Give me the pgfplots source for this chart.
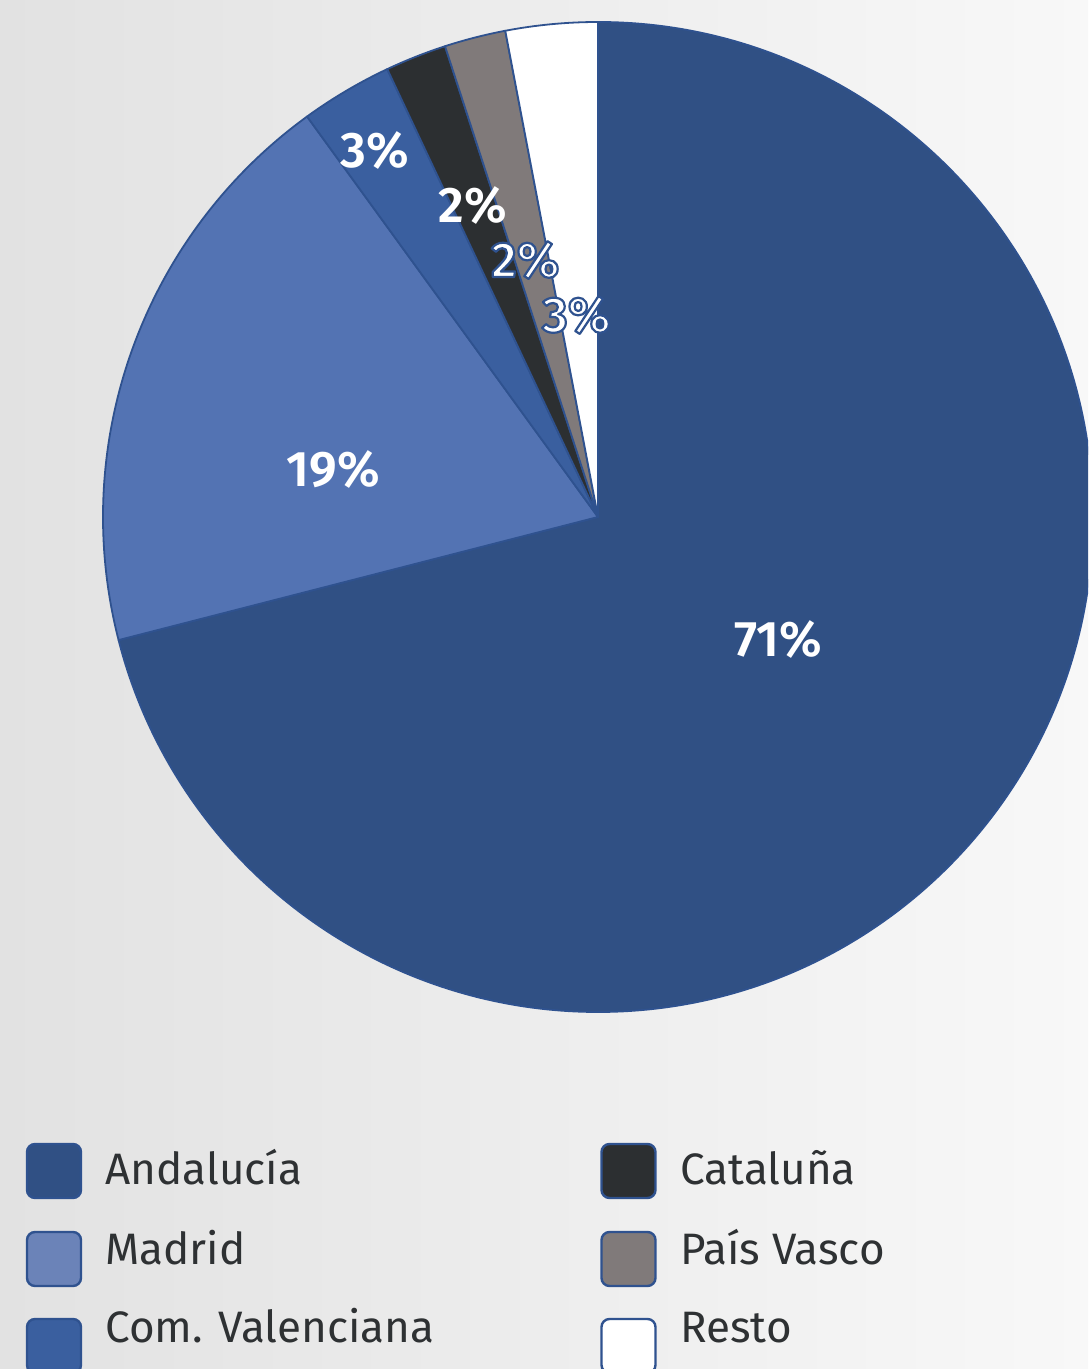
\documentclass[border=0pt]{standalone}
\usepackage{pgfplots}
\usepackage{pgfplotstable}
\pgfplotsset{compat=1.18}
\usepackage{fontspec}
\setmainfont{Fira Sans}
\newfontfamily\labfam{Fira Sans SemiBold}

\definecolor{wc0}{HTML}{305084}
\definecolor{wc1}{HTML}{5373B3}
\definecolor{wc2}{HTML}{3A5F9F}
\definecolor{wc3}{HTML}{2C2F31}
\definecolor{wc4}{HTML}{807A7A}
\definecolor{wc5}{HTML}{FFFFFF}
\definecolor{lc0}{HTML}{305084}
\definecolor{lc1}{HTML}{6B83B8}
\definecolor{lc2}{HTML}{3A5F9F}
\definecolor{lc3}{HTML}{2C2F31}
\definecolor{lc4}{HTML}{807A7A}
\definecolor{lc5}{HTML}{FFFFFF}
\definecolor{edgeblue}{HTML}{2F528F}
\definecolor{txt}{HTML}{2E3133}
\definecolor{bgL}{HTML}{E2E2E2}
\definecolor{bgR}{HTML}{F8F8F8}

\pgfplotstableread{
name value lx ly ol
Andalucia 71 0.364 -0.248 0
Madrid 19 -0.535 0.095 0
Valenciana 3 -0.451 0.741 0
Cataluna 2 -0.253 0.630 0
PaisVasco 2 -0.147 0.519 1
Resto 3 -0.044 0.408 1
}\piedata
\pgfplotstablecreatecol[create col/expr accum={\pgfmathaccuma+\thisrow{value}}{0}]{cum}\piedata

\newcommand\labfont{\labfam\fontsize{25}{25}\selectfont}
% outlined text: fill white, stroke dark blue (text render mode 2)
\newcommand\outl[1]{\special{pdf:literal direct 0.184 0.322 0.561 RG 1.1 w 1 j 2 Tr}#1\special{pdf:literal direct 0 Tr}}

\newcommand\drawwedge[1]{%
  \pgfplotstablegetelem{#1}{value}\of\piedata\let\wv\pgfplotsretval
  \pgfplotstablegetelem{#1}{cum}\of\piedata\let\wcum\pgfplotsretval
  \pgfmathsetmacro\aS{90-3.6*(\wcum-\wv)}%
  \pgfmathsetmacro\aE{90-3.6*\wcum}%
  \fill[fill=wc#1, draw=edgeblue, line width=0.9pt, line join=round]
    (axis cs:0,0) -- (axis cs:{cos(\aS)},{sin(\aS)})
    arc[start angle=\aS, end angle=\aE, radius=247.5pt] -- cycle;
}
\newcommand\drawlabel[1]{%
  \pgfplotstablegetelem{#1}{value}\of\piedata\let\wv\pgfplotsretval
  \pgfplotstablegetelem{#1}{lx}\of\piedata\let\lx\pgfplotsretval
  \pgfplotstablegetelem{#1}{ly}\of\piedata\let\ly\pgfplotsretval
  \pgfplotstablegetelem{#1}{ol}\of\piedata\let\ol\pgfplotsretval
  \ifnum\ol=1
    \node[text=white, font=\labfont, inner sep=0pt] at (axis cs:\lx,\ly) {\outl{\wv\%}};
  \else
    \node[text=white, font=\labfont, inner sep=0pt] at (axis cs:\lx,\ly) {\wv\%};
  \fi
}

\begin{document}
\begin{tikzpicture}
\useasboundingbox (0,0) rectangle (544pt,684.5pt);
\clip (0,0) rectangle (544pt,684.5pt);
\shade[left color=bgL, right color=bgR] (0,0) rectangle (544pt,684.5pt);

\begin{axis}[at={(299pt,426pt)}, anchor=center, scale only axis,
  width=495pt, height=495pt, xmin=-1, xmax=1, ymin=-1, ymax=1,
  hide axis, clip=false]
\pgfplotsinvokeforeach{0,...,5}{\pgfplotsextra{\drawwedge{#1}}}
\pgfplotsinvokeforeach{0,...,5}{\pgfplotsextra{\drawlabel{#1}}}
\end{axis}

% legend
\tikzset{sw/.style={draw=edgeblue, line width=1.2pt, rounded corners=4pt},
         lt/.style={anchor=base west, inner sep=0pt, text=txt, font=\fontsize{22}{22}\selectfont}}
\filldraw[sw, fill=lc0] (13.5pt,85.5pt) rectangle ++(27pt,27pt);
\node[lt] at (52.5pt,92pt) {Andalucía};
\filldraw[sw, fill=lc1] (13.5pt,41.5pt) rectangle ++(27pt,27pt);
\node[lt] at (52.5pt,52pt) {Madrid};
\filldraw[sw, fill=lc2] (13.5pt,-2pt) rectangle ++(27pt,27pt);
\node[lt] at (52.5pt,13pt) {Com. Valenciana};
\filldraw[sw, fill=lc3] (300.75pt,85.5pt) rectangle ++(27pt,27pt);
\node[lt] at (340pt,92pt) {Cataluña};
\filldraw[sw, fill=lc4] (300.75pt,41.5pt) rectangle ++(27pt,27pt);
\node[lt] at (340pt,52pt) {País Vasco};
\filldraw[sw, fill=lc5] (300.75pt,-2pt) rectangle ++(27pt,27pt);
\node[lt] at (340pt,13pt) {Resto};
\end{tikzpicture}
\end{document}
